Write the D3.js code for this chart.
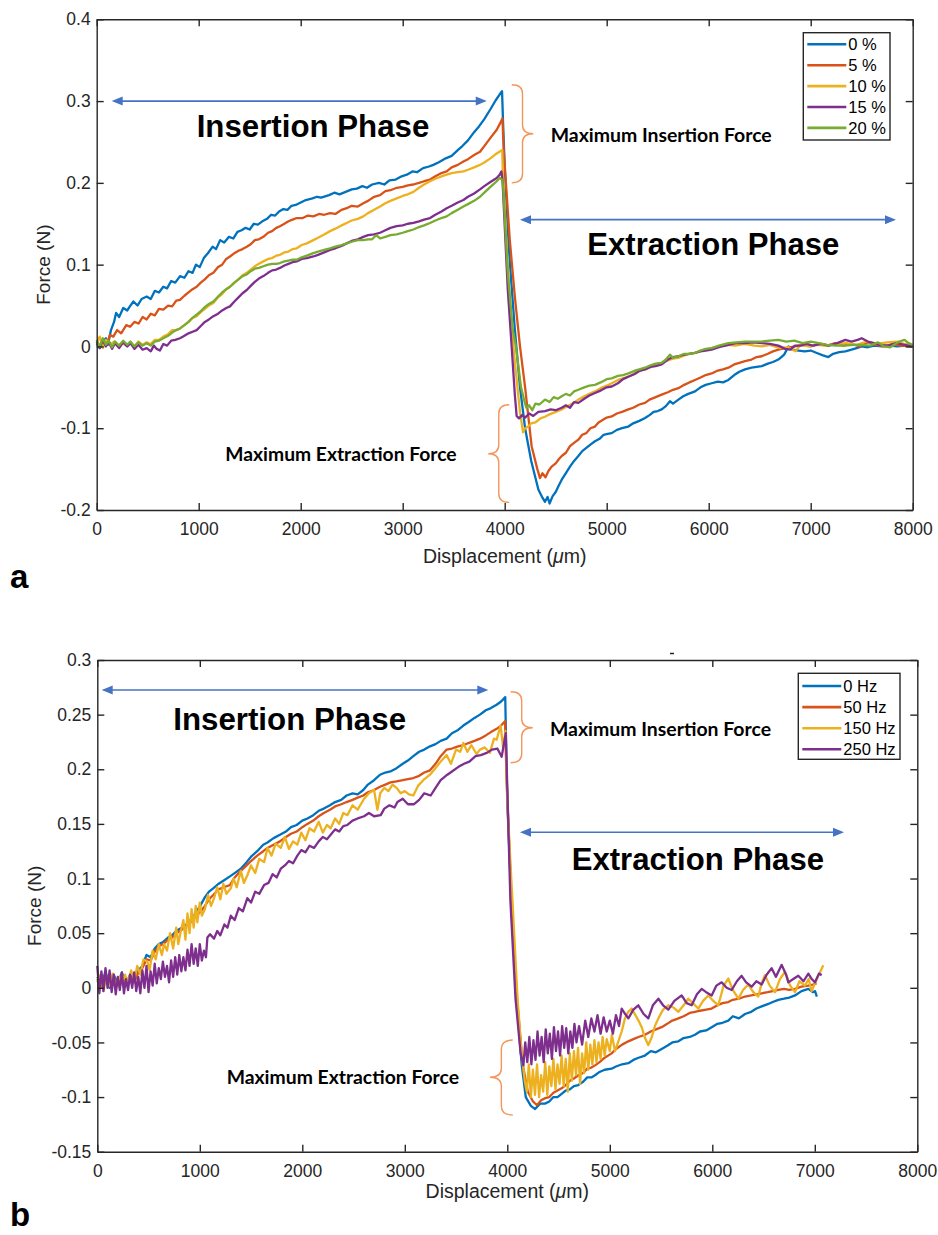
<!DOCTYPE html>
<html><head><meta charset="utf-8">
<script src="https://cdn.jsdelivr.net/npm/d3@7/dist/d3.min.js"></script>
<style>body{margin:0;background:#fff}svg{display:block;background:#fff}</style>
</head><body><svg id="c" width="938" height="1235"></svg>
<script>
// ---------------- DATA (panel a: needle insertion/extraction at % strain) ----------------
const xTicks = [0,1000,2000,3000,4000,5000,6000,7000,8000];
const yTicksA = [-0.2,-0.1,0,0.1,0.2,0.3,0.4];
const yTicksB = [-0.15,-0.1,-0.05,0,0.05,0.1,0.15,0.2,0.25,0.3];
const legendA = ["0 %","5 %","10 %","15 %","20 %"];
const legendB = ["0 Hz","50 Hz","150 Hz","250 Hz"];
const seriesColors = ["#0072BD","#D95319","#EDB120","#7E2F8E","#77AC30"];

const a0 = [[0,0.003],[30,-0.002],[60,0.006],[90,0.01],[110,0.002],[140,0.02],[170,0.03],[190,0.041],[220,0.036],[260,0.047],[300,0.044],[325,0.049],[360,0.055],[400,0.05],[440,0.058],[490,0.061],[530,0.058],[570,0.068],[610,0.066],[653,0.073],[690,0.071],[730,0.08],[770,0.078],[817,0.086],[860,0.084],[900,0.092],[940,0.09],[973,0.1],[1010,0.097],[1050,0.108],[1090,0.114],[1137,0.122],[1170,0.119],[1210,0.13],[1250,0.127],[1297,0.134],[1340,0.132],[1380,0.14],[1420,0.142],[1460,0.145],[1500,0.143],[1540,0.15],[1580,0.149],[1624,0.153],[1670,0.156],[1710,0.161],[1750,0.16],[1788,0.165],[1830,0.168],[1870,0.167],[1910,0.172],[1951,0.173],[2000,0.176],[2050,0.179],[2115,0.181],[2160,0.183],[2200,0.182],[2278,0.185],[2330,0.188],[2380,0.186],[2441,0.189],[2500,0.192],[2550,0.193],[2605,0.196],[2650,0.194],[2700,0.198],[2768,0.2],[2820,0.198],[2870,0.203],[2931,0.204],[2990,0.208],[3040,0.21],[3095,0.214],[3140,0.213],[3200,0.218],[3258,0.22],[3300,0.222],[3350,0.225],[3422,0.23],[3480,0.233],[3540,0.24],[3585,0.245],[3640,0.252],[3700,0.262],[3748,0.269],[3800,0.278],[3860,0.29],[3912,0.301],[3950,0.308],[3974,0.312],
[3985,0.27],[4000,0.22],[4040,0.12],[4100,0.02],[4150,-0.05],[4200,-0.1],[4260,-0.14],[4330,-0.175],[4370,-0.185],[4395,-0.19],[4420,-0.184],[4440,-0.192],[4470,-0.183],[4500,-0.178],[4530,-0.17],[4559,-0.163],[4600,-0.155],[4640,-0.147],[4680,-0.14],[4722,-0.134],[4760,-0.128],[4800,-0.124],[4840,-0.12],[4885,-0.116],[4930,-0.113],[4970,-0.108],[5010,-0.107],[5049,-0.106],[5100,-0.102],[5150,-0.1],[5212,-0.098],[5260,-0.094],[5320,-0.091],[5376,-0.0876],[5420,-0.084],[5460,-0.08],[5500,-0.079],[5539,-0.077],[5580,-0.073],[5620,-0.067],[5650,-0.07],[5703,-0.065],[5750,-0.061],[5800,-0.058],[5866,-0.055],[5920,-0.05],[5970,-0.047],[6029,-0.045],[6090,-0.043],[6140,-0.044],[6193,-0.041],[6250,-0.035],[6300,-0.031],[6356,-0.028],[6420,-0.026],[6470,-0.025],[6520,-0.024],[6580,-0.021],[6630,-0.019],[6683,-0.016],[6740,-0.01],[6781,0],[6820,-0.004],[6880,-0.005],[6940,-0.006],[7000,-0.005],[7060,-0.008],[7120,-0.011],[7173,-0.013],[7220,-0.009],[7280,-0.007],[7340,-0.006],[7400,-0.004],[7450,-0.002],[7500,0],[7560,-0.001],[7620,0.001],[7700,0],[7780,0.001],[7850,0],[7920,0.001],[8000,0]];

const a5 = [[0,0.004],[30,0],[60,0.008],[100,0.003],[130,0.014],[163,0.012],[200,0.02],[240,0.016],[290,0.026],[327,0.024],[370,0.03],[410,0.028],[450,0.036],[490,0.033],[530,0.04],[570,0.038],[610,0.046],[653,0.045],[700,0.05],[740,0.049],[780,0.056],[817,0.057],[860,0.062],[900,0.066],[940,0.07],[980,0.073],[1020,0.078],[1060,0.082],[1100,0.087],[1144,0.09],[1190,0.097],[1230,0.1],[1270,0.107],[1307,0.11],[1350,0.114],[1390,0.117],[1430,0.119],[1471,0.122],[1510,0.125],[1550,0.13],[1590,0.131],[1634,0.134],[1680,0.139],[1720,0.141],[1760,0.145],[1797,0.147],[1840,0.15],[1880,0.153],[1920,0.155],[1961,0.157],[2020,0.157],[2070,0.16],[2124,0.159],[2180,0.162],[2230,0.161],[2288,0.163],[2340,0.162],[2400,0.167],[2451,0.169],[2500,0.172],[2560,0.171],[2614,0.175],[2660,0.178],[2720,0.183],[2778,0.185],[2830,0.19],[2880,0.191],[2941,0.194],[3000,0.195],[3050,0.197],[3105,0.198],[3160,0.2],[3210,0.202],[3268,0.204],[3320,0.208],[3380,0.212],[3431,0.214],[3480,0.219],[3540,0.222],[3595,0.226],[3640,0.229],[3700,0.234],[3758,0.238],[3800,0.245],[3860,0.255],[3922,0.265],[3960,0.274],[3978,0.279],
[3990,0.24],[4050,0.13],[4100,0.06],[4150,0],[4200,-0.05],[4264,-0.122],[4320,-0.15],[4346,-0.161],[4370,-0.155],[4400,-0.16],[4430,-0.152],[4460,-0.147],[4500,-0.143],[4530,-0.138],[4559,-0.134],[4600,-0.13],[4640,-0.122],[4680,-0.118],[4722,-0.114],[4760,-0.108],[4800,-0.106],[4840,-0.1],[4885,-0.098],[4920,-0.093],[4960,-0.09],[5000,-0.087],[5049,-0.0856],[5100,-0.082],[5150,-0.08],[5212,-0.077],[5260,-0.075],[5320,-0.071],[5376,-0.069],[5420,-0.065],[5480,-0.062],[5539,-0.059],[5600,-0.056],[5650,-0.053],[5703,-0.051],[5760,-0.047],[5810,-0.044],[5866,-0.041],[5920,-0.038],[5970,-0.035],[6029,-0.033],[6080,-0.03],[6140,-0.028],[6193,-0.026],[6250,-0.022],[6300,-0.02],[6356,-0.018],[6420,-0.016],[6470,-0.013],[6520,-0.012],[6580,-0.009],[6630,-0.006],[6683,-0.004],[6750,-0.002],[6846,0],[6920,0.002],[7000,0],[7080,0.003],[7160,0.001],[7240,0.004],[7320,0.001],[7400,0.003],[7480,0],[7560,0.005],[7640,0.002],[7720,0],[7800,0.003],[7880,0.001],[8000,0]];

const a10 = [[0,0.005],[30,0.012],[60,-0.002],[90,0.008],[130,0.002],[170,0.006],[210,0],[250,0.005],[290,0.001],[327,0.004],[370,0],[410,0.006],[450,0.002],[490,0.005],[530,0.003],[570,0.008],[610,0.008],[653,0.012],[700,0.015],[740,0.02],[780,0.02],[817,0.022],[860,0.026],[900,0.03],[940,0.035],[980,0.037],[1020,0.042],[1060,0.046],[1100,0.05],[1144,0.053],[1190,0.06],[1230,0.064],[1270,0.07],[1307,0.073],[1350,0.078],[1390,0.082],[1430,0.087],[1471,0.09],[1510,0.094],[1550,0.098],[1590,0.101],[1634,0.104],[1680,0.107],[1720,0.108],[1760,0.111],[1797,0.112],[1840,0.115],[1880,0.116],[1920,0.119],[1961,0.12],[2010,0.124],[2060,0.126],[2124,0.13],[2170,0.133],[2230,0.137],[2288,0.141],[2340,0.144],[2400,0.148],[2451,0.151],[2500,0.154],[2560,0.156],[2614,0.159],[2660,0.163],[2720,0.167],[2778,0.171],[2830,0.175],[2880,0.178],[2941,0.181],[3000,0.184],[3050,0.186],[3105,0.189],[3160,0.194],[3210,0.198],[3268,0.202],[3320,0.205],[3380,0.208],[3431,0.21],[3480,0.212],[3540,0.213],[3595,0.214],[3640,0.216],[3700,0.219],[3758,0.222],[3800,0.225],[3860,0.23],[3922,0.236],[3960,0.239],[3976,0.24],
[3982,0.21],[4020,0.12],[4060,0.04],[4100,-0.02],[4150,-0.08],[4180,-0.105],[4200,-0.1],[4231,-0.098],[4260,-0.094],[4300,-0.093],[4350,-0.088],[4395,-0.086],[4440,-0.083],[4500,-0.08],[4559,-0.077],[4600,-0.074],[4660,-0.07],[4722,-0.065],[4780,-0.061],[4830,-0.058],[4885,-0.055],[4940,-0.051],[5000,-0.048],[5049,-0.045],[5110,-0.041],[5160,-0.039],[5212,-0.037],[5270,-0.033],[5320,-0.03],[5376,-0.028],[5430,-0.025],[5480,-0.022],[5539,-0.02],[5600,-0.017],[5650,-0.015],[5703,-0.014],[5760,-0.011],[5810,-0.009],[5866,-0.008],[5920,-0.005],[5970,-0.004],[6029,-0.002],[6100,0],[6193,0.002],[6260,0.001],[6350,0.003],[6450,0.001],[6520,0],[6600,0.002],[6700,-0.002],[6780,-0.001],[6850,-0.006],[6900,0.002],[6980,0],[7060,0.002],[7150,0.001],[7250,0.003],[7350,0.004],[7450,0.002],[7550,0.006],[7650,0.003],[7750,0.005],[7850,0.006],[7920,0.003],[8000,0.002]];

const a15 = [[0,0.006],[30,-0.002],[60,0.008],[90,0],[120,0.005],[150,-0.003],[180,0.004],[220,-0.002],[260,0.005],[300,0],[330,0.004],[370,-0.003],[410,0.002],[450,-0.004],[490,-0.002],[530,-0.006],[560,0.001],[588,-0.003],[620,-0.005],[653,0.003],[690,0.001],[730,0.007],[770,0.008],[817,0.01],[860,0.013],[900,0.016],[940,0.018],[980,0.02],[1020,0.025],[1060,0.03],[1100,0.033],[1144,0.037],[1190,0.04],[1230,0.044],[1270,0.047],[1307,0.049],[1350,0.055],[1390,0.06],[1430,0.065],[1471,0.069],[1510,0.074],[1550,0.079],[1590,0.083],[1634,0.086],[1680,0.09],[1720,0.093],[1760,0.094],[1797,0.096],[1840,0.099],[1880,0.101],[1920,0.103],[1961,0.104],[2010,0.107],[2060,0.108],[2124,0.11],[2170,0.112],[2230,0.115],[2288,0.118],[2340,0.12],[2400,0.123],[2451,0.126],[2500,0.129],[2560,0.131],[2614,0.134],[2660,0.136],[2720,0.137],[2778,0.139],[2830,0.142],[2880,0.145],[2941,0.147],[3000,0.148],[3050,0.15],[3105,0.151],[3160,0.153],[3210,0.155],[3268,0.157],[3320,0.161],[3380,0.165],[3431,0.169],[3480,0.172],[3540,0.176],[3595,0.179],[3640,0.183],[3700,0.187],[3758,0.192],[3800,0.196],[3860,0.201],[3922,0.206],[3950,0.21],[3968,0.214],
[3980,0.2],[4030,0.07],[4068,0],[4100,-0.06],[4117,-0.085],[4140,-0.088],[4170,-0.084],[4200,-0.087],[4240,-0.082],[4280,-0.085],[4330,-0.08],[4395,-0.079],[4450,-0.077],[4500,-0.078],[4559,-0.075],[4600,-0.072],[4640,-0.075],[4680,-0.068],[4722,-0.069],[4780,-0.064],[4830,-0.06],[4885,-0.057],[4940,-0.054],[5000,-0.05],[5049,-0.049],[5110,-0.045],[5160,-0.04],[5212,-0.037],[5270,-0.034],[5320,-0.03],[5376,-0.028],[5430,-0.025],[5480,-0.024],[5539,-0.022],[5600,-0.016],[5650,-0.013],[5703,-0.012],[5760,-0.01],[5810,-0.009],[5866,-0.008],[5920,-0.006],[5970,-0.005],[6029,-0.004],[6100,-0.001],[6193,0.002],[6270,0.004],[6356,0.004],[6440,0.005],[6520,0.004],[6600,0.003],[6683,0.001],[6750,-0.003],[6800,-0.004],[6846,0.001],[6900,0.001],[6960,0.003],[7020,0.001],[7100,0.003],[7180,0.001],[7260,0.004],[7340,0.008],[7400,0.006],[7460,0.008],[7500,0.01],[7560,0.006],[7620,0.004],[7680,0.002],[7760,0.001],[7840,0.004],[7920,0.002],[8000,0]];

const a20 = [[0,0.008],[30,0],[60,0.01],[90,0.002],[120,0.007],[150,-0.001],[180,0.006],[220,0.001],[260,0.007],[300,0.002],[330,0.006],[370,0],[410,0.005],[450,0.001],[490,0.004],[530,0.001],[570,0.006],[610,0.007],[653,0.01],[700,0.013],[740,0.017],[780,0.02],[817,0.022],[860,0.026],[900,0.03],[940,0.035],[980,0.039],[1020,0.043],[1060,0.048],[1100,0.052],[1144,0.055],[1190,0.061],[1230,0.066],[1270,0.07],[1307,0.073],[1350,0.078],[1390,0.082],[1430,0.086],[1471,0.088],[1510,0.092],[1550,0.095],[1590,0.096],[1634,0.098],[1680,0.1],[1720,0.101],[1760,0.101],[1797,0.102],[1840,0.104],[1880,0.105],[1920,0.106],[1961,0.106],[2010,0.109],[2060,0.111],[2124,0.114],[2170,0.116],[2230,0.118],[2288,0.12],[2340,0.122],[2400,0.124],[2451,0.126],[2500,0.128],[2560,0.13],[2614,0.13],[2660,0.131],[2700,0.131],[2740,0.136],[2778,0.132],[2830,0.134],[2880,0.136],[2941,0.137],[3000,0.139],[3050,0.141],[3105,0.143],[3160,0.146],[3210,0.148],[3268,0.151],[3320,0.154],[3380,0.157],[3431,0.159],[3480,0.163],[3540,0.167],[3595,0.171],[3640,0.174],[3700,0.178],[3758,0.183],[3800,0.188],[3860,0.195],[3922,0.202],[3950,0.206],[3975,0.204],
[3985,0.195],[4030,0.09],[4080,0.02],[4110,0],[4160,-0.05],[4200,-0.07],[4213,-0.075],[4240,-0.072],[4270,-0.078],[4300,-0.07],[4340,-0.071],[4395,-0.065],[4440,-0.068],[4480,-0.062],[4520,-0.064],[4559,-0.061],[4600,-0.058],[4640,-0.06],[4680,-0.055],[4722,-0.053],[4780,-0.05],[4830,-0.048],[4885,-0.047],[4940,-0.044],[5000,-0.04],[5049,-0.039],[5110,-0.036],[5160,-0.035],[5212,-0.033],[5270,-0.03],[5320,-0.028],[5376,-0.026],[5430,-0.023],[5480,-0.021],[5539,-0.02],[5580,-0.016],[5620,-0.01],[5650,-0.014],[5703,-0.012],[5760,-0.009],[5810,-0.009],[5866,-0.008],[5920,-0.005],[5970,-0.003],[6029,-0.002],[6100,0.001],[6193,0.004],[6270,0.005],[6356,0.006],[6440,0.006],[6520,0.006],[6600,0.007],[6683,0.008],[6760,0.006],[6840,0.007],[6920,0.004],[7000,0.006],[7080,0.004],[7160,0.002],[7250,0.001],[7337,0.001],[7420,0.002],[7500,0.002],[7580,0.001],[7660,0.005],[7720,0],[7780,-0.001],[7869,0.006],[7920,0.008],[7960,0.004],[8000,0.002]];

// ---------------- DATA (panel b: vibration frequency) ----------------
const b0 = [[0,0.01],[40,0.002],[80,0.015],[120,0],[160,0.012],[200,0.004],[240,0.014],[280,0.003],[320,0.012],[360,0.006],[400,0.016],[440,0.02],[480,0.03],[520,0.028],[560,0.036],[600,0.04],[643,0.042],[690,0.046],[730,0.048],[770,0.052],[806,0.054],[850,0.056],[890,0.06],[930,0.064],[968,0.07],[1010,0.076],[1050,0.083],[1090,0.088],[1131,0.091],[1180,0.095],[1230,0.098],[1294,0.102],[1340,0.105],[1400,0.109],[1457,0.115],[1500,0.12],[1560,0.125],[1619,0.131],[1660,0.133],[1720,0.137],[1782,0.14],[1840,0.143],[1890,0.147],[1945,0.149],[2000,0.153],[2050,0.155],[2107,0.158],[2160,0.162],[2210,0.164],[2270,0.167],[2320,0.17],[2380,0.172],[2432,0.176],[2490,0.178],[2540,0.177],[2595,0.181],[2640,0.186],[2700,0.19],[2758,0.195],[2810,0.197],[2860,0.198],[2920,0.201],[2980,0.205],[3030,0.208],[3083,0.212],[3140,0.216],[3190,0.218],[3246,0.221],[3300,0.223],[3350,0.226],[3408,0.228],[3460,0.233],[3520,0.236],[3571,0.24],[3620,0.243],[3680,0.247],[3733,0.25],[3790,0.254],[3840,0.256],[3896,0.259],[3940,0.262],[3980,0.266],
[3985,0.24],[4000,0.17],[4040,0.08],[4090,-0.01],[4140,-0.07],[4180,-0.1],[4230,-0.108],[4271,-0.111],[4320,-0.106],[4368,-0.106],[4410,-0.104],[4450,-0.1],[4490,-0.1],[4530,-0.097],[4570,-0.094],[4610,-0.093],[4650,-0.09],[4693,-0.089],[4740,-0.086],[4780,-0.082],[4820,-0.082],[4856,-0.08],[4900,-0.077],[4950,-0.075],[5018,-0.074],[5060,-0.072],[5120,-0.07],[5181,-0.069],[5230,-0.066],[5280,-0.064],[5343,-0.062],[5400,-0.058],[5450,-0.059],[5506,-0.056],[5560,-0.053],[5610,-0.05],[5669,-0.049],[5720,-0.046],[5780,-0.045],[5831,-0.043],[5880,-0.04],[5940,-0.039],[5994,-0.036],[6050,-0.033],[6100,-0.032],[6156,-0.03],[6200,-0.026],[6260,-0.028],[6319,-0.024],[6380,-0.022],[6430,-0.019],[6482,-0.017],[6540,-0.015],[6590,-0.013],[6644,-0.011],[6700,-0.01],[6750,-0.009],[6807,-0.007],[6870,-0.003],[6937,-0.001],[6980,-0.004],[7002,-0.003],[7020,-0.008]];

const b50 = [[0,0.008],[40,0],[80,0.012],[120,0.003],[160,0.01],[200,0.002],[240,0.012],[280,0.004],[320,0.01],[360,0.005],[400,0.014],[440,0.018],[480,0.026],[520,0.025],[560,0.033],[600,0.038],[643,0.04],[690,0.044],[730,0.046],[770,0.05],[806,0.052],[850,0.055],[890,0.058],[930,0.062],[968,0.066],[1010,0.07],[1050,0.075],[1090,0.081],[1131,0.085],[1180,0.09],[1230,0.092],[1294,0.094],[1340,0.101],[1400,0.107],[1457,0.112],[1500,0.116],[1560,0.121],[1619,0.125],[1660,0.128],[1720,0.131],[1782,0.134],[1840,0.138],[1890,0.141],[1945,0.143],[2000,0.147],[2050,0.15],[2107,0.153],[2160,0.157],[2210,0.16],[2270,0.163],[2320,0.166],[2380,0.168],[2432,0.17],[2490,0.172],[2540,0.174],[2595,0.176],[2640,0.179],[2700,0.181],[2758,0.184],[2810,0.186],[2860,0.188],[2920,0.189],[2980,0.19],[3030,0.191],[3083,0.192],[3140,0.194],[3190,0.197],[3246,0.199],[3300,0.205],[3350,0.212],[3408,0.218],[3460,0.219],[3520,0.221],[3571,0.222],[3620,0.224],[3680,0.226],[3733,0.228],[3790,0.231],[3840,0.234],[3896,0.237],[3940,0.24],[3978,0.244],
[3990,0.2],[4040,0.08],[4095,-0.01],[4150,-0.07],[4200,-0.095],[4250,-0.104],[4290,-0.1075],[4330,-0.103],[4368,-0.101],[4410,-0.1],[4450,-0.096],[4490,-0.094],[4530,-0.092],[4570,-0.089],[4610,-0.085],[4650,-0.083],[4693,-0.08],[4740,-0.078],[4780,-0.074],[4820,-0.073],[4856,-0.071],[4900,-0.068],[4950,-0.064],[5018,-0.06],[5060,-0.056],[5120,-0.052],[5181,-0.049],[5230,-0.047],[5280,-0.045],[5343,-0.043],[5400,-0.04],[5450,-0.038],[5506,-0.036],[5560,-0.033],[5610,-0.03],[5669,-0.028],[5720,-0.026],[5780,-0.023],[5831,-0.022],[5880,-0.021],[5940,-0.02],[5994,-0.019],[6050,-0.016],[6100,-0.014],[6156,-0.013],[6200,-0.011],[6260,-0.01],[6319,-0.008],[6380,-0.007],[6430,-0.006],[6482,-0.005],[6540,-0.004],[6590,-0.003],[6644,-0.002],[6700,-0.001],[6750,-0.002],[6807,-0.001],[6870,0.001],[6937,0.002],[6980,0.003],[7018,0.004]];

const b150 = [[0,0.005],[30,0.012],[60,-0.003],[90,0.01],[120,0.002],[150,0.013],[180,0],[210,0.01],[240,0.003],[270,0.012],[300,0.005],[330,0.016],[360,0.007],[390,0.02],[420,0.012],[450,0.026],[488,0.024],[510,0.016],[540,0.034],[570,0.026],[600,0.04],[630,0.03],[651,0.04],[680,0.034],[710,0.05],[740,0.036],[770,0.055],[790,0.04],[813,0.051],[840,0.062],[860,0.044],[880,0.068],[900,0.05],[920,0.072],[940,0.055],[960,0.075],[976,0.06],[1000,0.078],[1020,0.066],[1050,0.072],[1080,0.085],[1110,0.075],[1139,0.082],[1170,0.092],[1200,0.081],[1230,0.095],[1260,0.086],[1302,0.091],[1330,0.1],[1360,0.092],[1400,0.107],[1430,0.096],[1464,0.103],[1500,0.112],[1540,0.105],[1580,0.118],[1627,0.115],[1660,0.128],[1700,0.121],[1740,0.132],[1790,0.128],[1830,0.138],[1870,0.127],[1910,0.134],[1952,0.131],[1990,0.142],[2030,0.135],[2070,0.146],[2115,0.143],[2160,0.152],[2200,0.142],[2240,0.149],[2277,0.146],[2320,0.155],[2360,0.15],[2400,0.16],[2440,0.158],[2490,0.167],[2540,0.163],[2603,0.173],[2650,0.178],[2700,0.181],[2733,0.163],[2760,0.178],[2800,0.183],[2840,0.18],[2880,0.186],[2920,0.183],[2960,0.178],[3000,0.18],[3040,0.177],[3083,0.176],[3130,0.185],[3180,0.19],[3246,0.195],[3290,0.2],[3340,0.206],[3408,0.213],[3450,0.205],[3500,0.218],[3540,0.216],[3571,0.224],[3610,0.216],[3650,0.222],[3700,0.214],[3733,0.218],[3780,0.22],[3830,0.215],[3870,0.228],[3896,0.227],[3935,0.24],[3960,0.219],[3982,0.235],
[4000,0.17],[4050,0.08],[4100,-0.01],[4140,-0.06],[4170,-0.085],[4190,-0.095],[4210,-0.07],[4230,-0.1],[4250,-0.075],[4270,-0.098],[4290,-0.07],[4310,-0.1],[4330,-0.08],[4350,-0.095],[4370,-0.068],[4390,-0.098],[4410,-0.072],[4430,-0.09],[4450,-0.065],[4470,-0.093],[4490,-0.07],[4510,-0.088],[4530,-0.062],[4550,-0.09],[4570,-0.065],[4590,-0.095],[4610,-0.06],[4630,-0.085],[4650,-0.058],[4670,-0.08],[4690,-0.055],[4710,-0.088],[4730,-0.06],[4750,-0.078],[4770,-0.05],[4790,-0.075],[4810,-0.052],[4830,-0.07],[4850,-0.048],[4870,-0.068],[4890,-0.05],[4910,-0.065],[4930,-0.045],[4950,-0.062],[4970,-0.047],[5000,-0.058],[5020,-0.043],[5051,-0.058],[5080,-0.05],[5116,-0.04],[5148,-0.028],[5180,-0.022],[5213,-0.019],[5250,-0.025],[5280,-0.03],[5311,-0.036],[5340,-0.045],[5376,-0.0525],[5410,-0.045],[5440,-0.035],[5474,-0.028],[5520,-0.02],[5571,-0.016],[5620,-0.018],[5669,-0.022],[5720,-0.016],[5766,-0.01],[5810,-0.014],[5864,-0.019],[5910,-0.012],[5961,-0.007],[6010,-0.012],[6059,-0.016],[6110,0.002],[6156,0.0085],[6200,-0.002],[6254,-0.01],[6300,-0.002],[6351,0.003],[6400,-0.004],[6449,-0.008],[6480,0.004],[6514,0.0116],[6560,0.002],[6612,-0.004],[6660,0.008],[6709,0.0147],[6760,0.002],[6807,-0.004],[6850,0.006],[6904,0.002],[6940,0.008],[6969,-0.003],[7020,0.008],[7083,0.0207]];

const b250 = [[0,0.02],[20,-0.005],[40,0.015],[60,-0.003],[80,0.018],[100,0],[120,0.016],[140,-0.004],[160,0.012],[180,-0.006],[200,0.01],[220,-0.002],[240,0.014],[260,-0.005],[280,0.008],[300,-0.002],[320,0.012],[340,0],[360,0.014],[380,-0.003],[400,0.01],[420,-0.005],[440,0.016],[460,0],[480,0.02],[500,-0.004],[520,0.015],[540,0.002],[560,0.022],[580,0.004],[600,0.018],[620,0.008],[640,0.024],[660,0.01],[680,0.02],[700,0.005],[720,0.025],[740,0.01],[760,0.028],[780,0.012],[800,0.03],[820,0.015],[840,0.028],[860,0.016],[880,0.035],[900,0.02],[920,0.04],[940,0.022],[960,0.036],[980,0.02],[1000,0.04],[1020,0.025],[1040,0.034],[1060,0.028],[1074,0.046],[1100,0.049],[1139,0.045],[1170,0.052],[1200,0.048],[1240,0.058],[1270,0.055],[1302,0.066],[1340,0.062],[1380,0.073],[1420,0.07],[1464,0.082],[1500,0.078],[1540,0.088],[1580,0.086],[1627,0.094],[1670,0.096],[1710,0.104],[1750,0.101],[1790,0.109],[1830,0.112],[1870,0.116],[1910,0.114],[1952,0.121],[1990,0.126],[2030,0.124],[2070,0.13],[2115,0.128],[2160,0.134],[2200,0.138],[2240,0.136],[2277,0.14],[2320,0.145],[2360,0.143],[2400,0.148],[2440,0.149],[2490,0.153],[2540,0.155],[2603,0.157],[2650,0.16],[2700,0.157],[2765,0.158],[2800,0.164],[2850,0.167],[2900,0.165],[2928,0.17],[2980,0.173],[3030,0.168],[3090,0.168],[3140,0.172],[3190,0.178],[3253,0.176],[3300,0.183],[3350,0.19],[3415,0.195],[3460,0.198],[3520,0.202],[3578,0.205],[3630,0.207],[3690,0.212],[3741,0.213],[3800,0.215],[3850,0.218],[3903,0.219],[3945,0.2115],[3965,0.222],[3985,0.233],
[3995,0.2],[4030,0.08],[4080,-0.01],[4130,-0.06],[4157,-0.071],[4175,-0.05],[4195,-0.068],[4215,-0.045],[4235,-0.07],[4255,-0.048],[4275,-0.066],[4295,-0.04],[4315,-0.062],[4335,-0.045],[4355,-0.068],[4375,-0.038],[4395,-0.06],[4415,-0.042],[4435,-0.065],[4455,-0.036],[4475,-0.058],[4495,-0.04],[4515,-0.062],[4535,-0.035],[4555,-0.055],[4575,-0.037],[4595,-0.06],[4615,-0.04],[4635,-0.055],[4655,-0.033],[4675,-0.05],[4700,-0.035],[4730,-0.052],[4760,-0.03],[4790,-0.045],[4820,-0.028],[4850,-0.04],[4880,-0.025],[4910,-0.042],[4940,-0.027],[4970,-0.04],[5000,-0.03],[5030,-0.042],[5060,-0.025],[5090,-0.035],[5116,-0.019],[5150,-0.024],[5181,-0.028],[5230,-0.02],[5278,-0.016],[5330,-0.024],[5376,-0.028],[5420,-0.016],[5474,-0.01],[5520,-0.016],[5571,-0.02],[5630,-0.012],[5701,-0.007],[5750,-0.014],[5799,-0.016],[5850,-0.006],[5896,-0.001],[5940,-0.004],[5994,-0.007],[6040,0.002],[6091,0.005],[6140,0],[6189,-0.002],[6240,0.006],[6286,0.011],[6330,0.005],[6384,0.001],[6430,0.006],[6482,0.003],[6530,0.012],[6579,0.018],[6620,0.01],[6677,0.021],[6720,0.012],[6742,0.005],[6790,0.008],[6839,0.011],[6890,0.006],[6937,0.013],[6970,0.008],[7002,0.005],[7040,0.013],[7067,0.0116]];

// annotation anchors in data units
const annotA = {ins:[147,3824,0.3], ext:[4150,7836,0.155], insText:[980,3261,0.256], extText:[4810,7280,0.112],
  maxIns:[4451,6618,0.2494], maxExt:[1261,3529,-0.1406], braceIns:[4069,4280,0.32,0.2,0.26], braceExt:[4045,3839,-0.0713,-0.1907,-0.1312]};
const annotB = {ins:[43,3815,0.2725], ext:[4124,7285,0.1423], insText:[741,3012,0.236], extText:[4628,7090,0.1078],
  maxIns:[4417,6573,0.2307], maxExt:[1262,3529,-0.088], braceIns:[4033,4248,0.271,0.206,0.238], braceExt:[4053,3831,-0.0478,-0.1164,-0.0819]};

// ---------------- DRAWING ----------------
const svg = d3.select("#c");
const AX = "#262626", ARROW = "#4472C4", BRACE = "#F4965A";
const SANS = "'Liberation Sans', Arial, Helvetica, sans-serif";

function fmt(d){ return d === 0 ? "0" : String(+d.toFixed(2)); }

function panel(cfg){
  const x = d3.scaleLinear().domain([0,8000]).range([cfg.L, cfg.R]);
  const y = d3.scaleLinear().domain(cfg.yDom).range([cfg.B, cfg.T]);
  const g = svg.append("g");

  const line = d3.line().x(d=>x(d[0])).y(d=>y(d[1]));
  cfg.series.forEach((s,i)=>{
    g.append("path").attr("d", line(s)).attr("fill","none")
      .attr("stroke", seriesColors[i]).attr("stroke-width",2.3).attr("stroke-linejoin","round");
  });

  const styleAxis = sel => { sel.select(".domain").attr("stroke",AX).attr("stroke-width",1.4);
    sel.selectAll(".tick line").attr("stroke",AX).attr("stroke-width",1.4);
    sel.selectAll("text").attr("fill",AX).attr("font-family",SANS).attr("font-size",17.5); };
  g.append("g").attr("transform",`translate(0,${cfg.B})`)
    .call(d3.axisBottom(x).tickValues(xTicks).tickFormat(d3.format("d")).tickSize(-7).tickSizeOuter(0).tickPadding(13)).call(styleAxis);
  g.append("g").attr("transform",`translate(0,${cfg.T})`)
    .call(d3.axisTop(x).tickValues(xTicks).tickFormat("").tickSize(-7).tickSizeOuter(0)).call(styleAxis);
  g.append("g").attr("transform",`translate(${cfg.L},0)`)
    .call(d3.axisLeft(y).tickValues(cfg.yTicks).tickFormat(fmt).tickSize(-7).tickSizeOuter(0).tickPadding(6)).call(styleAxis);
  g.append("g").attr("transform",`translate(${cfg.R},0)`)
    .call(d3.axisRight(y).tickValues(cfg.yTicks).tickFormat("").tickSize(-7).tickSizeOuter(0)).call(styleAxis);

  g.append("text").attr("transform",`translate(${cfg.yLabX},${(cfg.T+cfg.B)/2}) rotate(-90)`)
    .attr("text-anchor","middle").attr("font-family",SANS).attr("font-size",19).attr("fill",AX).text("Force (N)");
  const xt = g.append("text").attr("x",(cfg.L+cfg.R)/2).attr("y",cfg.xLabY).attr("text-anchor","middle")
    .attr("font-family",SANS).attr("font-size",19.5).attr("fill",AX);
  xt.append("tspan").text("Displacement (");
  xt.append("tspan").attr("font-style","italic").text("\u03bc");
  xt.append("tspan").text("m)");

  g.append("text").attr("x",10).attr("y",cfg.letterY).attr("font-family",SANS).attr("font-weight","bold")
    .attr("font-size",33).attr("fill","#000").text(cfg.letter);

  const lg = cfg.legend;
  g.append("rect").attr("x",lg.x).attr("y",lg.y).attr("width",lg.w).attr("height",lg.h)
    .attr("fill","#fff").attr("stroke",AX).attr("stroke-width",1.4);
  cfg.legendLabels.forEach((t,i)=>{
    const yy = lg.y + lg.first + i*lg.step;
    g.append("line").attr("x1",lg.x+4).attr("x2",lg.x+43).attr("y1",yy).attr("y2",yy)
      .attr("stroke",seriesColors[i]).attr("stroke-width",2.6);
    g.append("text").attr("x",lg.x+lg.tx).attr("y",yy).attr("dy","0.36em").attr("font-family",SANS)
      .attr("font-size",16.5).attr("fill","#000").text(t);
  });

  const an = cfg.annot;
  function arrow(a){
    const x1=x(a[0]), x2=x(a[1]), yy=y(a[2]), hl=11, hw=4.5;
    g.append("line").attr("x1",x1+hl-1).attr("x2",x2-hl+1).attr("y1",yy).attr("y2",yy)
      .attr("stroke",ARROW).attr("stroke-width",1.6);
    g.append("path").attr("d",`M${x1},${yy} L${x1+hl},${yy-hw} L${x1+hl},${yy+hw} Z`).attr("fill",ARROW);
    g.append("path").attr("d",`M${x2},${yy} L${x2-hl},${yy-hw} L${x2-hl},${yy+hw} Z`).attr("fill",ARROW);
  }
  arrow(an.ins); arrow(an.ext);
  function label(a, txt, size, family){
    g.append("text").attr("x",x(a[0])).attr("y",y(a[2])).attr("font-family",family).attr("font-weight","bold")
      .attr("font-size",size).attr("fill","#000").attr("textLength",x(a[1])-x(a[0]))
      .attr("lengthAdjust","spacingAndGlyphs").text(txt);
  }
  const big = "'Liberation Sans', Arial, sans-serif", small = "Lato, 'Open Sans', sans-serif";
  label(an.insText,"Insertion Phase",31,big); label(an.extText,"Extraction Phase",31,big);
  label(an.maxIns,"Maximum Insertion Force",18.5,small); label(an.maxExt,"Maximum Extraction Force",18.5,small);
  function brace(b){
    const xa=x(b[0]), xb=x(b[1]), y0=y(b[2]), y1=y(b[3]), ym=y(b[4]);
    const xm=(xa+xb)/2, r=9;
    const d=`M${xa},${y0} Q${xm},${y0} ${xm},${y0+r} L${xm},${ym-r} Q${xm},${ym} ${xb},${ym} Q${xm},${ym} ${xm},${ym+r} L${xm},${y1-r} Q${xm},${y1} ${xa},${y1}`;
    g.append("path").attr("d",d).attr("fill","none").attr("stroke",BRACE).attr("stroke-width",1.4);
  }
  brace(an.braceIns); brace(an.braceExt);
  return g;
}

panel({L:96.7, R:912.7, T:19.3, B:510, yDom:[-0.2,0.4], yTicks:yTicksA, series:[a0,a5,a10,a15,a20],
  yLabX:50, xLabY:563, letter:"a", letterY:588, legendLabels:legendA,
  legend:{x:803.3,y:32.7,w:86.7,h:107.3,first:11.6,step:20.9,tx:45}, annot:annotA});
const gb = panel({L:97.3, R:917.3, T:660, B:1151.7, yDom:[-0.15,0.3], yTicks:yTicksB, series:[b0,b50,b150,b250],
  yLabX:41, xLabY:1198, letter:"b", letterY:1226, legendLabels:legendB,
  legend:{x:798.3,y:673.3,w:101.7,h:86,first:12.7,step:21.1,tx:45}, annot:annotB});
gb.append("line").attr("x1",670).attr("x2",674).attr("y1",653.5).attr("y2",653.5).attr("stroke","#222").attr("stroke-width",1.5);
</script></body></html>
